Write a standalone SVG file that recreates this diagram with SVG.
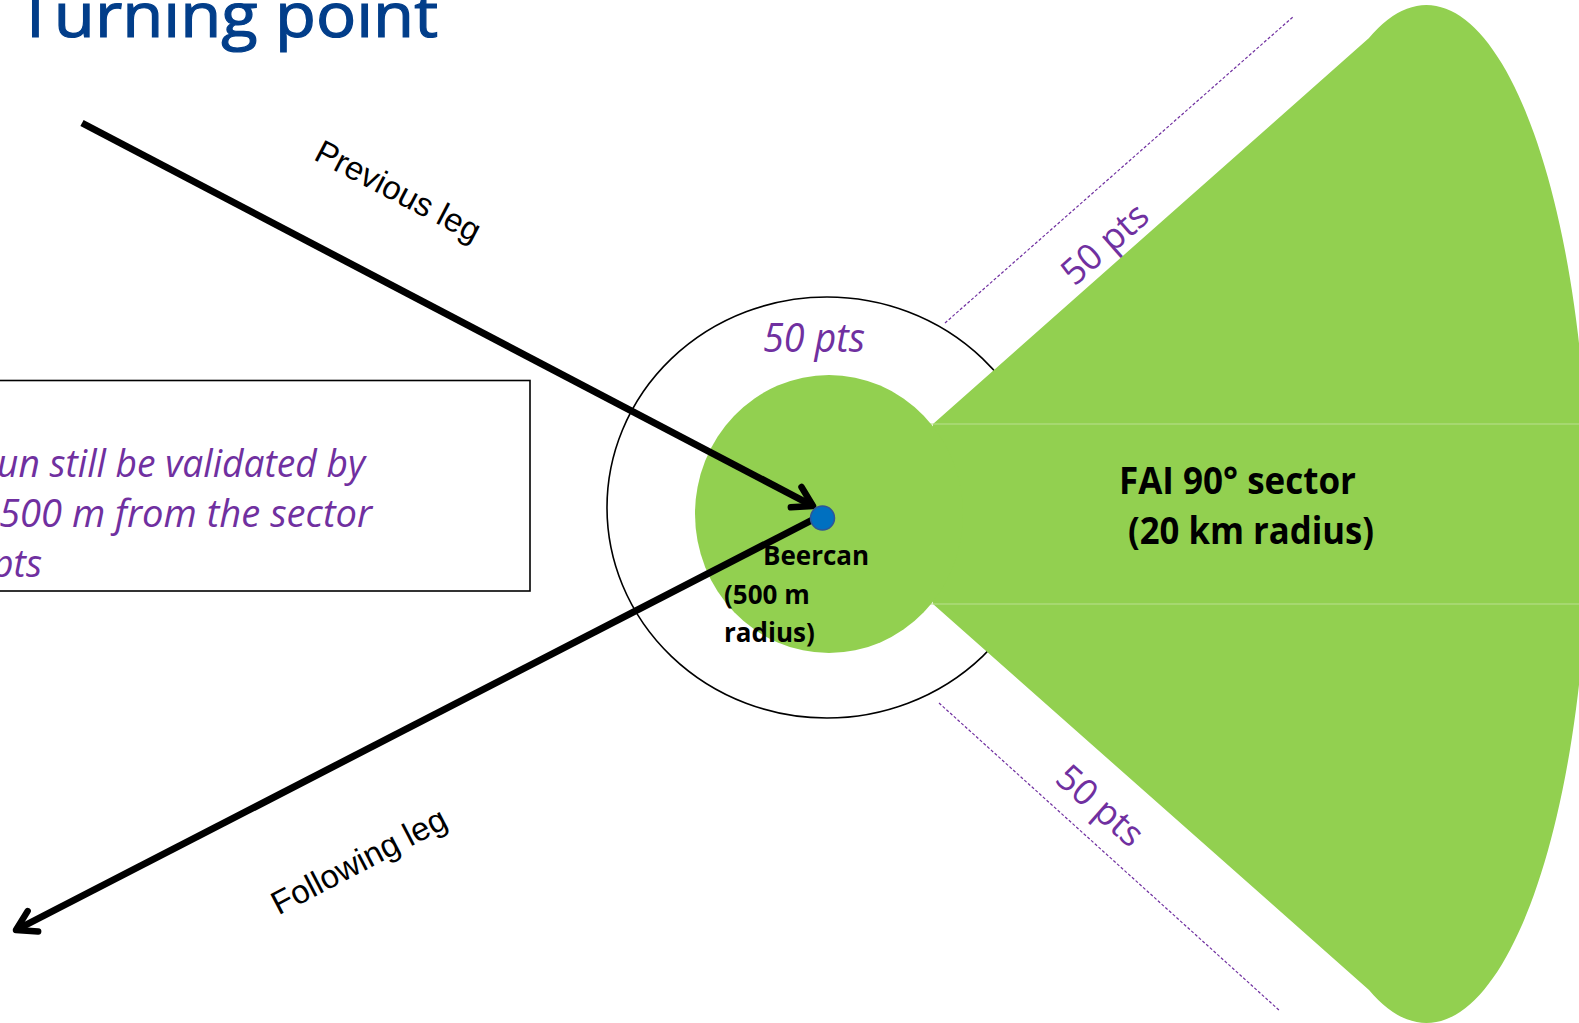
<svg xmlns="http://www.w3.org/2000/svg" width="1579" height="1023" viewBox="0 0 1579 1023">
  <style>
    .green { fill: #92D050; }
    .seam { stroke: #B9E08F; stroke-width: 1.2; }
    .dash { stroke: #7030A0; stroke-width: 1.2; stroke-dasharray: 3 2; fill: none; }
    .purple { fill: #7030A0; font-family: "Open Sans", "Noto Sans", sans-serif; }
    .leg { stroke: #000; stroke-width: 7; fill: none; }
    .legtxt { font-family: "Liberation Sans", Arial, sans-serif; font-size: 33px; fill: #000; }
    .bold { font-family: "Open Sans", "Noto Sans", sans-serif; font-weight: bold; fill: #000; }
  </style>
  <defs>
    <marker id="chev" markerUnits="userSpaceOnUse" markerWidth="60" markerHeight="60" viewBox="-30 -30 60 60" refX="0" refY="0" orient="auto">
      <path d="M -19,-11.5 L 0,0 L -19,11.5" fill="none" stroke="#000" stroke-width="6.5" stroke-linecap="round" stroke-linejoin="round"/>
    </marker>
  </defs>
  <rect width="1579" height="1023" fill="#fff"/>

  <g id="title">
    <text x="17" y="37" font-family="'Open Sans', 'Noto Sans', sans-serif" font-size="63" fill="#023E8A" stroke="#023E8A" stroke-width="1.2" textLength="421" lengthAdjust="spacingAndGlyphs">Turning point</text>
  </g>

  <g id="outer-ring">
    <ellipse cx="827" cy="507.5" rx="220" ry="210.5" fill="none" stroke="#000" stroke-width="1.6"/>
    <text class="purple" x="763" y="352" font-size="40" font-style="italic" textLength="102" lengthAdjust="spacingAndGlyphs">50 pts</text>
  </g>

  <g id="fai-sector">
    <path class="green" d="M 930,424 L 1366,38 A 162 509 0 1 1 1366,990 L 930,604 Z" transform="translate(3,0)"/>
    <line class="seam" x1="930" y1="424" x2="1579" y2="424"/>
    <line class="seam" x1="930" y1="604" x2="1579" y2="604"/>
    <text class="bold" x="1119" y="494" font-size="38" textLength="237" lengthAdjust="spacingAndGlyphs">FAI 90° sector</text>
    <text class="bold" x="1128" y="544" font-size="38" textLength="246" lengthAdjust="spacingAndGlyphs">(20 km radius)</text>
  </g>

  <g id="beercan">
    <ellipse class="green" cx="829" cy="514" rx="134" ry="139"/>
    <text class="bold" x="763" y="565" font-size="26">Beercan</text>
    <text class="bold" x="724" y="604" font-size="26">(500 m</text>
    <text class="bold" x="724" y="642" font-size="26">radius)</text>
  </g>

  <g id="sector-edges">
    <line class="dash" x1="945" y1="323" x2="1294" y2="16"/>
    <line class="dash" x1="939" y1="703" x2="1280" y2="1011"/>
    <text class="purple" font-size="36" transform="translate(1113,253) rotate(-41.5)" text-anchor="middle">50 pts</text>
    <text class="purple" font-size="36" transform="translate(1092,815) rotate(41.5)" text-anchor="middle">50 pts</text>
  </g>

  <g id="note-box">
    <rect x="-5" y="380.5" width="535" height="210.5" fill="none" stroke="#000" stroke-width="1.6"/>
    <text class="purple" x="-3" y="477" font-size="38" font-style="italic" textLength="368" lengthAdjust="spacingAndGlyphs">un still be validated by</text>
    <text class="purple" x="-1" y="527" font-size="38" font-style="italic" textLength="373" lengthAdjust="spacingAndGlyphs">500 m from the sector</text>
    <text class="purple" x="-8" y="577" font-size="38" font-style="italic" textLength="50" lengthAdjust="spacingAndGlyphs">pts</text>
  </g>

  <g id="connectors">
    <line class="leg" x1="82" y1="123" x2="813" y2="506" marker-end="url(#chev)"/>
    <line class="leg" x1="818" y1="517" x2="16" y2="930" marker-end="url(#chev)"/>
    <text class="legtxt" transform="translate(393,201) rotate(27.5)" text-anchor="middle">Previous leg</text>
    <text class="legtxt" transform="translate(364,871) rotate(-27.5)" text-anchor="middle">Following leg</text>
  </g>

  <g id="turnpoint">
    <circle cx="822.5" cy="518" r="12" fill="#0070C0" stroke="#2F5597" stroke-width="1.5"/>
  </g>
</svg>
